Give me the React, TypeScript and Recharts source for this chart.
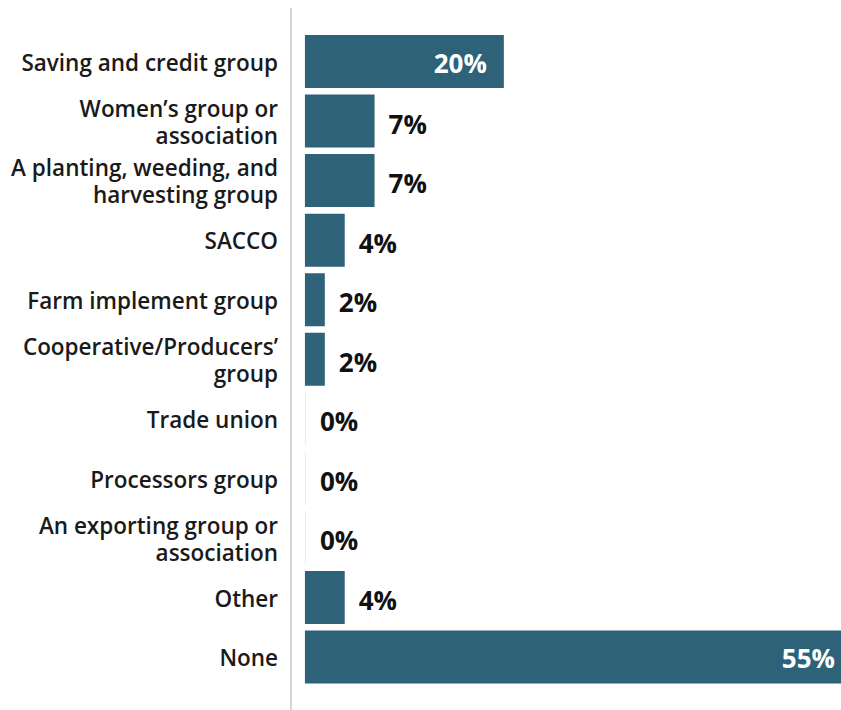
import React from "react";
import { BarChart, Bar, XAxis, YAxis, LabelList, Cell } from "recharts";

const categories: string[] = [
  "Saving and credit group",
  "Women\u2019s group or\nassociation",
  "A planting, weeding, and\nharvesting group",
  "SACCO",
  "Farm implement group",
  "Cooperative/Producers\u2019\ngroup",
  "Trade union",
  "Processors group",
  "An exporting group or\nassociation",
  "Other",
  "None",
];

const values: number[] = [20, 7, 7, 4, 2, 2, 0, 0, 0, 4, 55];

const data = categories.map((c, i) => ({ name: c, value: values[i] }));

const FONT = "'Open Sans', 'DejaVu Sans', sans-serif";

const CategoryTick = (props: any) => {
  const { x, y, payload } = props;
  const lines: string[] = String(payload.value).split("\n");
  const lh = 27;
  const start = -((lines.length - 1) * lh) / 2;
  return (
    <text
      x={x}
      y={y}
      textAnchor="end"
      fill="#1a1a1a"
      fontFamily={FONT}
      fontSize={22.5}
      fontWeight={600}
    >
      {lines.map((l, i) => (
        <tspan key={i} x={x} dy={i === 0 ? start + 9 : lh}>
          {l}
        </tspan>
      ))}
    </text>
  );
};

const ValueLabel = (props: any) => {
  const { x, y, width, height, value } = props;
  const inside = value >= 15;
  const text = `${Math.round(value)}%`;
  if (inside) {
    return (
      <text
        x={x + width - 17}
        y={y + height / 2 + 11}
        textAnchor="end"
        fill="#ffffff"
        fontFamily={FONT}
        fontSize={26}
        fontWeight={700}
      >
        {text}
      </text>
    );
  }
  return (
    <text
      x={x + width + 14}
      y={y + height / 2 + 12.5}
      textAnchor="start"
      fill="#111111"
      fontFamily={FONT}
      fontSize={26}
      fontWeight={700}
    >
      {text}
    </text>
  );
};

export default function App() {
  return (
    <div style={{ position: "absolute", left: 0, top: 0, background: "#fff" }}>
      <BarChart
        width={841}
        height={710}
        data={data}
        layout="vertical"
        margin={{ top: 8, right: 0, bottom: 0, left: 0 }}
      >
        <XAxis type="number" hide domain={[-1.4, 53.9]} allowDataOverflow />
        <YAxis
          type="category"
          dataKey="name"
          width={291}
          axisLine={{ stroke: "#d4d4d4", strokeWidth: 2 }}
          tickLine={false}
          tick={<CategoryTick />}
          padding={{ top: 24, bottom: 23 }}
          interval={0}
          tickMargin={7}
        />
        <Bar
          dataKey="value"
          fill="#2d6279"
          barSize={53}
          minPointSize={1}
          isAnimationActive={false}
        >
          {data.map((d, i) => (
            <Cell key={i} fill={d.value === 0 ? "#ececec" : "#2d6279"} />
          ))}
          <LabelList dataKey="value" content={<ValueLabel />} />
        </Bar>
      </BarChart>
    </div>
  );
}
